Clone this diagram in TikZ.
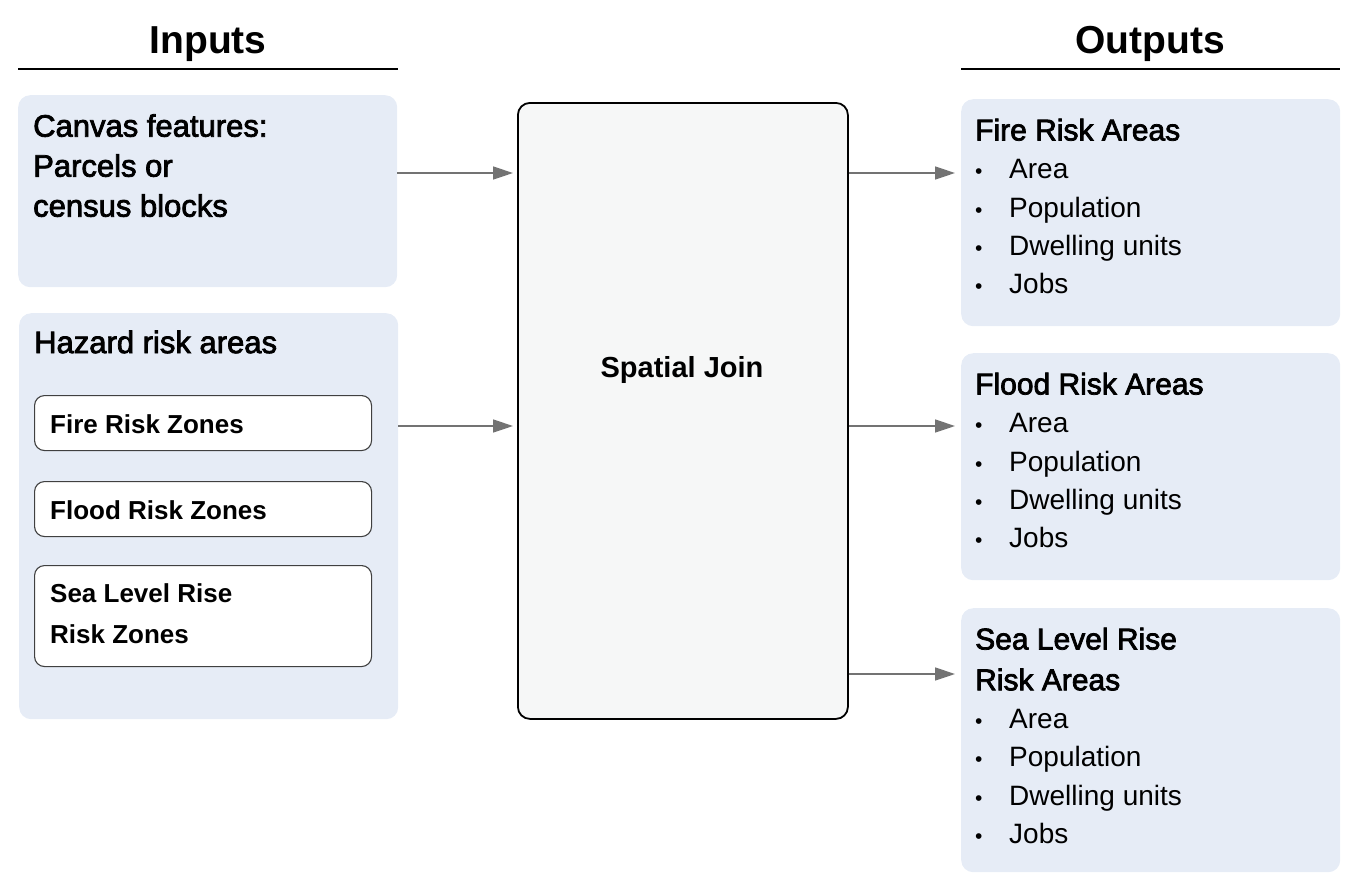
\documentclass[tikz,border=0pt]{standalone}
\usepackage{fontspec}
\setmainfont{Liberation Sans}
\newfontfamily\medfont{Liberation Sans}[FakeBold=2.5]
\usetikzlibrary{arrows.meta, positioning}
\definecolor{boxblue}{HTML}{E6ECF6}
\definecolor{joinfill}{HTML}{F6F7F7}
\definecolor{arrowgray}{HTML}{737373}
\tikzstyle{panel} = [rectangle, rounded corners=12pt, fill=boxblue, inner sep=0pt, minimum width=379pt, anchor=north west]
\tikzstyle{zone} = [rectangle, rounded corners=10pt, draw=black!75, line width=1.1pt, fill=white, inner sep=0pt, minimum width=337pt, anchor=north west]
\tikzstyle{joinbox} = [rectangle, rounded corners=12pt, draw=black, line width=1.8pt, fill=joinfill, minimum width=330pt, minimum height=616pt, inner sep=0pt, anchor=north west]
\tikzstyle{heading} = [anchor=base, inner sep=0pt, font=\fontsize{39}{46}\selectfont\bfseries]
\tikzstyle{paneltext} = [align=left, anchor=north west, inner sep=0pt, font=\fontsize{31}{40}\selectfont\medfont]
\tikzstyle{zonetext} = [align=left, anchor=west, inner sep=0pt, font=\fontsize{26}{41}\selectfont\bfseries]
\tikzstyle{items} = [align=left, anchor=north west, inner sep=0pt, font=\fontsize{28}{38.3}\selectfont]
\tikzstyle{arrow} = [line width=1.5pt, draw=arrowgray, -{Triangle[length=20pt,width=13pt]}]
\newcommand{\bul}{\makebox[34pt][l]{\fontsize{21}{21}\selectfont\textbullet}}
\newcommand{\outtitle}[1]{{\medfont\fontsize{30}{38.3}\selectfont #1}}

\begin{document}
\begin{tikzpicture}[x=1pt, y=-1pt]
\useasboundingbox (0,0) rectangle (1360,895);

% headings
\node (inputs) [heading] at (208,53) {Inputs};
\node (outputs) [heading] at (1150,53) {Outputs};
\draw [line width=1.5pt] (18,69) -- (398,69);
\draw [line width=1.5pt] (961,69) -- (1340,69);

% inputs
\node (canvas) [panel, minimum height=192pt] at (18,95) {};
\node (canvastxt) [paneltext] at (33,114) {Canvas features:\\Parcels or\\census blocks};
\node (hazard) [panel, minimum height=406pt] at (19,313) {};
\node (hazardtxt) [paneltext, anchor=west] at (34,342) {Hazard risk areas};
\node (firezone) [zone, minimum height=55pt] at (34,395) {};
\node (floodzone) [zone, minimum height=55pt] at (34,481) {};
\node (slrzone) [zone, minimum height=101pt] at (34,565) {};
\node (firezonetxt) [zonetext] at (50,424) {Fire Risk Zones};
\node (floodzonetxt) [zonetext] at (50,510) {Flood Risk Zones};
\node (slrzonetxt) [zonetext, anchor=north west] at (50,583.5) {Sea Level Rise\\Risk Zones};

% spatial join
\node (join) [joinbox] at (517,102) {};
\node (jointxt) [anchor=base, inner sep=0pt, font=\fontsize{29}{34}\selectfont\bfseries] at (682,377) {Spatial Join};

% outputs
\node (fireout) [panel, minimum height=227pt] at (961,99) {};
\node (fireouttxt) [items] at (975,118.5) {\outtitle{Fire Risk Areas}\\\bul Area\\\bul Population\\\bul Dwelling units\\\bul Jobs};
\node (floodout) [panel, minimum height=227pt] at (961,353) {};
\node (floodouttxt) [items] at (975,372.5) {\outtitle{Flood Risk Areas}\\\bul Area\\\bul Population\\\bul Dwelling units\\\bul Jobs};
\node (slrout) [panel, minimum height=264pt] at (961,608) {};
\node (slrouttxt) [items] at (975,627.5) {\outtitle{Sea Level Rise}\\[2.5pt]\outtitle{Risk Areas}\\\bul Area\\\bul Population\\\bul Dwelling units\\\bul Jobs};

% arrows
\draw [arrow, shorten >=4pt] (canvas.east |- 0,173) -- (join.west |- 0,173);
\draw [arrow, shorten >=4pt] (hazard.east |- 0,426) -- (join.west |- 0,426);
\draw [arrow, shorten >=6pt] (join.east |- 0,173) -- (fireout.west |- 0,173);
\draw [arrow, shorten >=6pt] (join.east |- 0,426) -- (floodout.west |- 0,426);
\draw [arrow, shorten >=6pt] (join.east |- 0,674) -- (slrout.west |- 0,674);
\end{tikzpicture}
\end{document}
